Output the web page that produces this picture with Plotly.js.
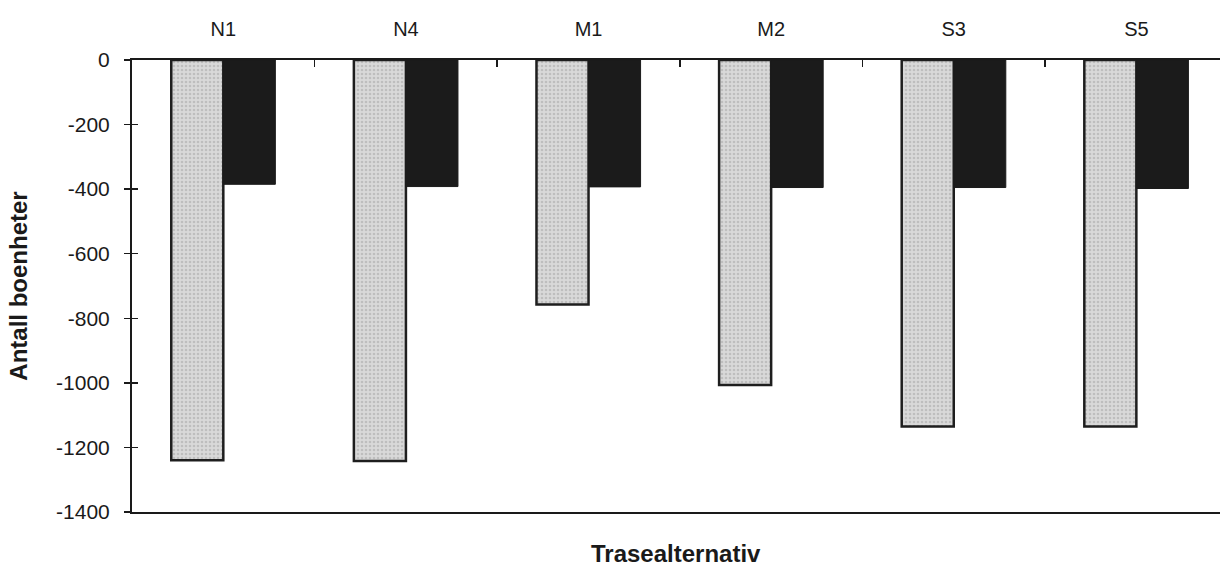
<!DOCTYPE html>
<html>
<head>
<meta charset="utf-8">
<script src="https://cdn.plot.ly/plotly-3.0.1.min.js"></script>
<style>
  html, body { margin: 0; padding: 0; background: #ffffff; }
  #chart { width: 1220px; height: 567px; }
</style>
</head>
<body>
<div id="chart"></div>
<script>
// Route alternatives along the x axis
const categories = ['N1', 'N4', 'M1', 'M2', 'S3', 'S5'];
// Change in number of dwellings, first series (light grey bars)
const seriesGrey = [-1240, -1242, -757, -1007, -1135, -1135];
// Change in number of dwellings, second series (black bars)
const seriesBlack = [-385, -392, -393, -395, -395, -398];
// Y axis tick values
const yTicks = [0, -200, -400, -600, -800, -1000, -1200, -1400];

const fontFamily = 'Liberation Sans, Arial, sans-serif';

const traces = [
  {
    type: 'bar',
    x: categories,
    y: seriesGrey,
    marker: {
      color: '#d4d4d4',
      line: { color: '#1e1e1e', width: 2.5 },
      pattern: { shape: '.', fillmode: 'overlay', bgcolor: '#d9d9d9', fgcolor: '#a4a4a4', size: 4, solidity: 0.35 }
    },
    hoverinfo: 'x+y',
    showlegend: false
  },
  {
    type: 'bar',
    x: categories,
    y: seriesBlack,
    marker: {
      color: '#1b1b1b',
      line: { color: '#1b1b1b', width: 1 }
    },
    hoverinfo: 'x+y',
    showlegend: false
  },
  // invisible helper trace that carries the inner half of the y ticks
  {
    type: 'scatter',
    x: [categories[0]],
    y: [0],
    yaxis: 'y2',
    mode: 'markers',
    marker: { opacity: 0 },
    hoverinfo: 'skip',
    showlegend: false
  }
];

const layout = {
  width: 1220,
  height: 567,
  margin: { l: 132, r: 0, t: 60, b: 55 },
  paper_bgcolor: '#ffffff',
  plot_bgcolor: '#ffffff',
  barmode: 'group',
  bargap: 0.43,
  bargroupgap: 0,
  font: { family: fontFamily, color: '#1a1a1a', size: 20 },
  xaxis: {
    type: 'category',
    side: 'top',
    range: [-0.5, 5.458],
    showline: true,
    linecolor: '#1a1a1a',
    linewidth: 2,
    mirror: true,
    ticks: 'inside',
    tickson: 'boundaries',
    ticklen: 7,
    tickwidth: 1.5,
    tickcolor: '#1a1a1a',
    ticklabelstandoff: 14,
    tickfont: { family: fontFamily, size: 20, color: '#1a1a1a' },
    showgrid: false,
    zeroline: false,
    fixedrange: true
  },
  yaxis: {
    range: [-1400, 0],
    tickvals: yTicks,
    ticktext: yTicks.map(String),
    showline: true,
    linecolor: '#1a1a1a',
    linewidth: 2,
    ticks: 'outside',
    ticklen: 6,
    tickwidth: 1.5,
    tickcolor: '#1a1a1a',
    ticklabelstandoff: 10,
    tickfont: { family: fontFamily, size: 21, color: '#1a1a1a' },
    showgrid: false,
    zeroline: false,
    fixedrange: true,
    title: {
      text: '<b>Antall boenheter</b>',
      font: { family: fontFamily, size: 24, color: '#1a1a1a' },
      standoff: 22
    }
  },
  yaxis2: {
    overlaying: 'y',
    range: [-1400, 0],
    tickvals: yTicks,
    ticks: 'inside',
    ticklen: 6,
    tickwidth: 1.5,
    tickcolor: '#1a1a1a',
    showticklabels: false,
    showline: false,
    showgrid: false,
    zeroline: false,
    fixedrange: true
  },
  annotations: [
    {
      text: '<b>Trasealternativ</b>',
      xref: 'paper',
      yref: 'paper',
      x: 0.5,
      y: 0,
      yshift: -41,
      xanchor: 'center',
      yanchor: 'middle',
      showarrow: false,
      font: { family: fontFamily, size: 24, color: '#1a1a1a' }
    }
  ]
};

Plotly.newPlot('chart', traces, layout, { displayModeBar: false, staticPlot: true });
</script>
</body>
</html>
